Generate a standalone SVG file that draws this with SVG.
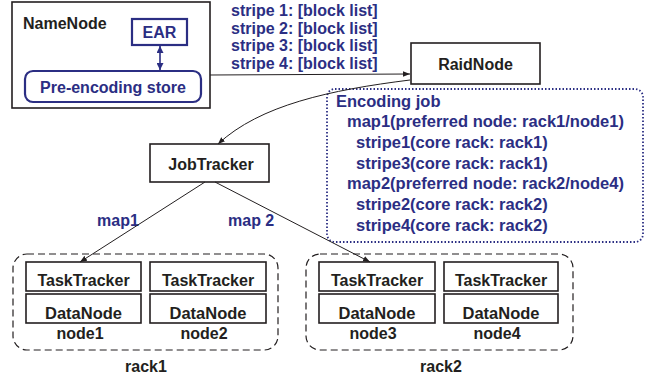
<svg xmlns="http://www.w3.org/2000/svg" width="651" height="377" viewBox="0 0 651 377">
<style>
text{font-family:"Liberation Sans",Arial,sans-serif;font-weight:bold;font-size:16px}
.k{fill:#231f20}
.b{fill:#2b2e83}
.c{text-anchor:middle}
.e{font-size:16.5px}
.box{fill:#fff;stroke:#231f20;stroke-width:1.6}
.bbox{fill:#fff;stroke:#2b2e83;stroke-width:2.2}
.rack{fill:none;stroke:#231f20;stroke-width:1.2;stroke-dasharray:7,4}
.ln{fill:none;stroke:#231f20;stroke-width:1}
</style>
<defs>
<marker id="ah" viewBox="0 0 10 10" refX="10" refY="5" markerWidth="7" markerHeight="7" orient="auto-start-reverse" markerUnits="userSpaceOnUse">
<path d="M0,1 L10,5 L0,9 z" fill="#231f20"/>
</marker>
<marker id="bh" viewBox="0 0 10 10" refX="10" refY="5" markerWidth="7" markerHeight="7" orient="auto-start-reverse" markerUnits="userSpaceOnUse">
<path d="M0,0 L10,5 L0,10 z" fill="#2b2e83"/>
</marker>
</defs>
<g id="namenode">
<rect class="box" x="12" y="2" width="198" height="106"/>
<text class="k" x="23" y="29">NameNode</text>
</g>
<g id="ear">
<rect class="bbox" x="132" y="19" width="55" height="26"/>
<text class="b c" x="159.5" y="38">EAR</text>
</g>
<g id="preencoding">
<rect class="bbox" x="25" y="71" width="176" height="31" rx="8"/>
<text class="b c" x="113" y="93">Pre-encoding store</text>
</g>
<g id="stripes">
<text class="b" x="231" y="16">stripe 1: [block list]</text>
<text class="b" x="231" y="33.5">stripe 2: [block list]</text>
<text class="b" x="231" y="51">stripe 3: [block list]</text>
<text class="b" x="231" y="68.5">stripe 4: [block list]</text>
</g>
<g id="raidnode">
<rect class="box" x="411" y="43" width="129" height="41"/>
<text class="k c" x="475.5" y="70">RaidNode</text>
</g>
<g id="encodingjob">
<rect x="327" y="89" width="316" height="153" rx="8" fill="none" stroke="#2b2e83" stroke-width="1.8" stroke-dasharray="1.5,2"/>
<text class="b e" x="336" y="107">Encoding job</text>
<text class="b e" x="347" y="127">map1(preferred node: rack1/node1)</text>
<text class="b e" x="356" y="148">stripe1(core rack: rack1)</text>
<text class="b e" x="356" y="168.5">stripe3(core rack: rack1)</text>
<text class="b e" x="347" y="189">map2(preferred node: rack2/node4)</text>
<text class="b e" x="356" y="210">stripe2(core rack: rack2)</text>
<text class="b e" x="356" y="231">stripe4(core rack: rack2)</text>
</g>
<g id="jobtracker">
<rect class="box" x="150" y="144" width="119" height="38"/>
<text class="k c" x="211" y="170">JobTracker</text>
</g>
<g id="maplabels">
<text class="b" x="97" y="226">map1</text>
<text class="b" x="228" y="226">map 2</text>
</g>
<g id="rack1">
<rect class="rack" x="13" y="254" width="265" height="96" rx="14"/>
<text class="k c" x="146" y="372">rack1</text>
</g>
<g id="node1">
<rect class="box" x="26" y="262" width="115" height="29"/>
<text class="k c" x="83.5" y="286">TaskTracker</text>
<rect class="box" x="26" y="294" width="115" height="29"/>
<text class="k c e" x="83.5" y="319">DataNode</text>
<text class="k c" x="80" y="339">node1</text>
</g>
<g id="node2">
<rect class="box" x="150" y="262" width="116" height="29"/>
<text class="k c" x="208" y="286">TaskTracker</text>
<rect class="box" x="150" y="294" width="116" height="29"/>
<text class="k c e" x="208" y="319">DataNode</text>
<text class="k c" x="204" y="339">node2</text>
</g>
<g id="rack2">
<rect class="rack" x="306" y="254" width="267" height="96" rx="14"/>
<text class="k c" x="441" y="372">rack2</text>
</g>
<g id="node3">
<rect class="box" x="319" y="262" width="116" height="29"/>
<text class="k c" x="377" y="286">TaskTracker</text>
<rect class="box" x="319" y="294" width="116" height="29"/>
<text class="k c e" x="377" y="319">DataNode</text>
<text class="k c" x="373" y="339">node3</text>
</g>
<g id="node4">
<rect class="box" x="444" y="262" width="114" height="29"/>
<text class="k c" x="501" y="286">TaskTracker</text>
<rect class="box" x="444" y="294" width="114" height="29"/>
<text class="k c e" x="501" y="319">DataNode</text>
<text class="k c" x="497" y="339">node4</text>
</g>
<g id="connectors">
<line class="ln" x1="210" y1="75" x2="410" y2="74" marker-end="url(#ah)"/>
<path class="ln" d="M410,80 C330,90 260,105 218,144" marker-end="url(#ah)"/>
<line class="ln" x1="205" y1="182" x2="80" y2="262" marker-end="url(#ah)"/>
<line class="ln" x1="215" y1="182" x2="370" y2="262" marker-end="url(#ah)"/>
<line x1="160" y1="46" x2="160" y2="70" stroke="#2b2e83" stroke-width="1.6" marker-start="url(#bh)" marker-end="url(#bh)"/>
</g>
</svg>
